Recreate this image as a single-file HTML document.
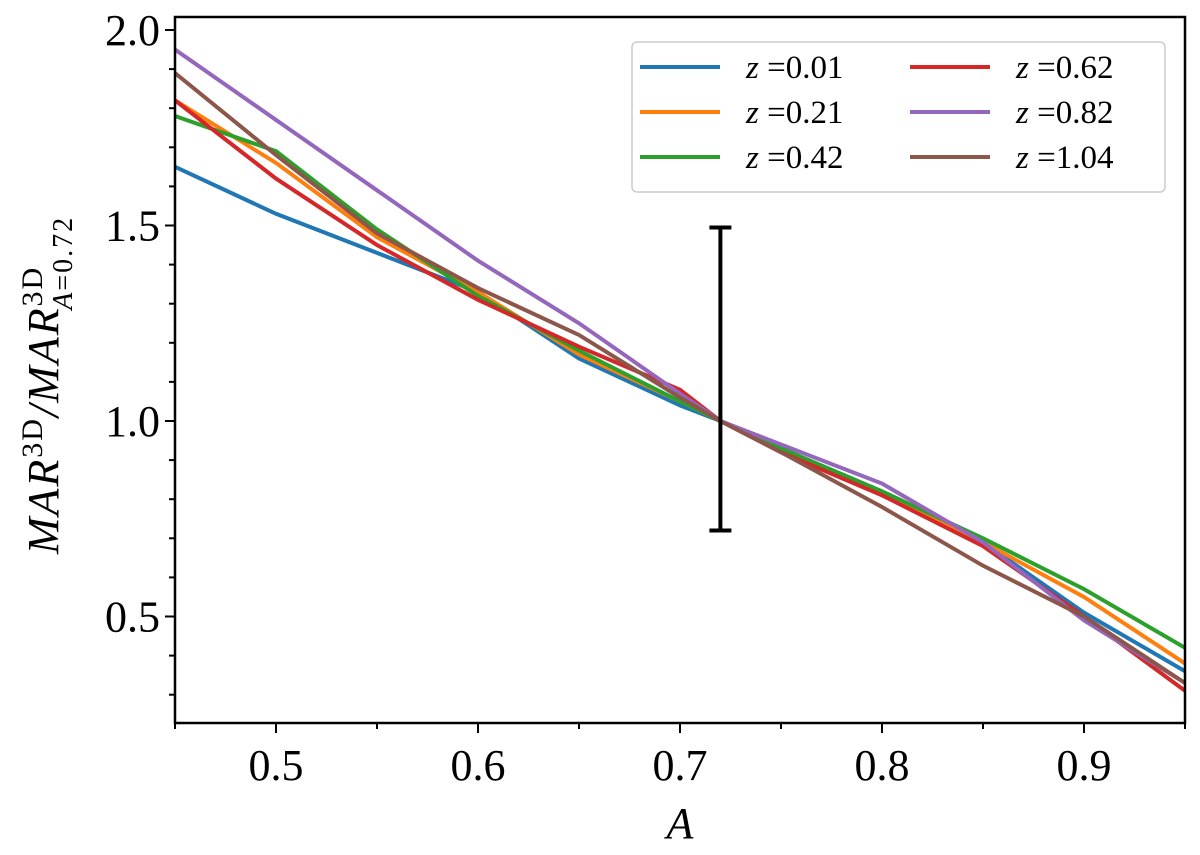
<!DOCTYPE html>
<html><head><meta charset="utf-8"><style>
body{margin:0;background:#fff}
svg text{font-family:"Liberation Serif","DejaVu Serif",serif}
</style></head><body>
<svg id="chart" width="1200" height="850" xmlns="http://www.w3.org/2000/svg"></svg>
<script>
const xValues=[0.45,0.5,0.55,0.6,0.65,0.7,0.72,0.75,0.8,0.85,0.9,0.95];
const seriesNames=["0.01","0.21","0.42","0.62","0.82","1.04"];
const seriesColors=["#1f77b4","#ff7f0e","#2ca02c","#d62728","#9467bd","#8c564b"];
const s001=[1.65,1.53,1.43,1.33,1.16,1.04,1.0,0.93,0.82,0.69,0.51,0.36];
const s021=[1.82,1.66,1.47,1.33,1.17,1.05,1.0,0.93,0.81,0.69,0.55,0.38];
const s042=[1.78,1.69,1.49,1.32,1.18,1.05,1.0,0.93,0.82,0.70,0.57,0.42];
const s062=[1.82,1.62,1.45,1.31,1.19,1.08,1.0,0.92,0.81,0.68,0.50,0.31];
const s082=[1.95,1.77,1.59,1.41,1.25,1.07,1.0,0.94,0.84,0.69,0.49,0.33];
const s104=[1.89,1.68,1.48,1.34,1.22,1.06,1.0,0.92,0.78,0.63,0.50,0.33];
const errX=0.72, errLo=0.72, errHi=1.495;
const xTicks=[0.5,0.6,0.7,0.8,0.9];
const xTickLabels=["0.5","0.6","0.7","0.8","0.9"];
const yTicks=[0.5,1.0,1.5,2.0];
const yTickLabels=["0.5","1.0","1.5","2.0"];
const L=175,R=1185,T=17,B=723;
const X=v=>L+(v-0.45)/0.5*(R-L);
const Y=v=>421-(v-1)*391;
const svg=document.getElementById('chart');
const NS="http://www.w3.org/2000/svg";
function mk(t,a,p){const e=document.createElementNS(NS,t);for(const k in a)e.setAttribute(k,a[k]);(p||svg).appendChild(e);return e;}
const clip=mk('clipPath',{id:'c'});mk('rect',{x:L,y:T,width:R-L,height:B-T},clip);
const allSeries=[s001,s021,s042,s062,s082,s104];
const g=mk('g',{'clip-path':'url(#c)'});


allSeries.forEach((s,i)=>{
 const p=mk('polyline',{points:s.map((v,j)=>X(xValues[j])+','+Y(v)).join(' '),fill:'none',stroke:seriesColors[i],'stroke-width':4},g);
 
 
});
const eb=mk('g',{stroke:'#000','stroke-width':4});


mk('line',{x1:X(errX),x2:X(errX),y1:Y(errLo),y2:Y(errHi)},eb);
mk('line',{x1:X(errX)-11,x2:X(errX)+11,y1:Y(errLo),y2:Y(errLo)},eb);
mk('line',{x1:X(errX)-11,x2:X(errX)+11,y1:Y(errHi),y2:Y(errHi)},eb);
const ax=mk('rect',{x:L,y:T,width:R-L,height:B-T,fill:'none',stroke:'#000','stroke-width':2.5});


for(let v=0.45;v<0.951;v+=0.05){mk('line',{x1:X(v),x2:X(v),y1:B,y2:B+(Math.abs(v*10-Math.round(v*10))<0.01?10:6),stroke:'#000','stroke-width':2});}
xTicks.forEach((v,i)=>{const t=mk('text',{x:X(v),y:780,'font-size':44,'text-anchor':'middle'});t.textContent=xTickLabels[i];});
for(let v=0.3;v<2.01;v+=0.1){mk('line',{x1:L,x2:L-(Math.abs(v*2-Math.round(v*2))<0.01?10:6),y1:Y(v),y2:Y(v),stroke:'#000','stroke-width':2});}
yTicks.forEach((v,i)=>{const t=mk('text',{x:160,y:Y(v)+15,'font-size':44,'text-anchor':'end'});t.textContent=yTickLabels[i];});
const xt=mk('text',{x:680,y:838,'font-size':44,'font-style':'italic','text-anchor':'middle'});xt.textContent='A';

const yt=mk('text',{transform:'translate(58,385) rotate(-90)','font-size':44,'font-style':'italic','text-anchor':'middle','letter-spacing':2});
yt.innerHTML='MAR<tspan dy="-16" font-size="30" font-style="normal">3D</tspan><tspan dy="16">/MAR</tspan><tspan dy="-16" font-size="30" font-style="normal">3D</tspan><tspan dx="-44" dy="30" font-size="28">A</tspan><tspan font-size="28" font-style="normal">=0.72</tspan>';

const lg=mk('g',{});

mk('rect',{x:632,y:42,width:533,height:150,rx:5,fill:'#fff',stroke:'#ccc','stroke-width':1.5},lg);
seriesNames.forEach((n,i)=>{
 const col=Math.floor(i/3),row=i%3;
 const x0=640+col*270,y0=67+row*45;
 const e=mk('g',{},lg);
 
 mk('line',{x1:x0,x2:x0+80,y1:y0,y2:y0,stroke:seriesColors[i],'stroke-width':4},e);
 const t=mk('text',{x:x0+106,y:y0+11,'font-size':33},e);
 t.innerHTML='<tspan font-style="italic">z</tspan> =' +n;
});
</script>
</body></html>
